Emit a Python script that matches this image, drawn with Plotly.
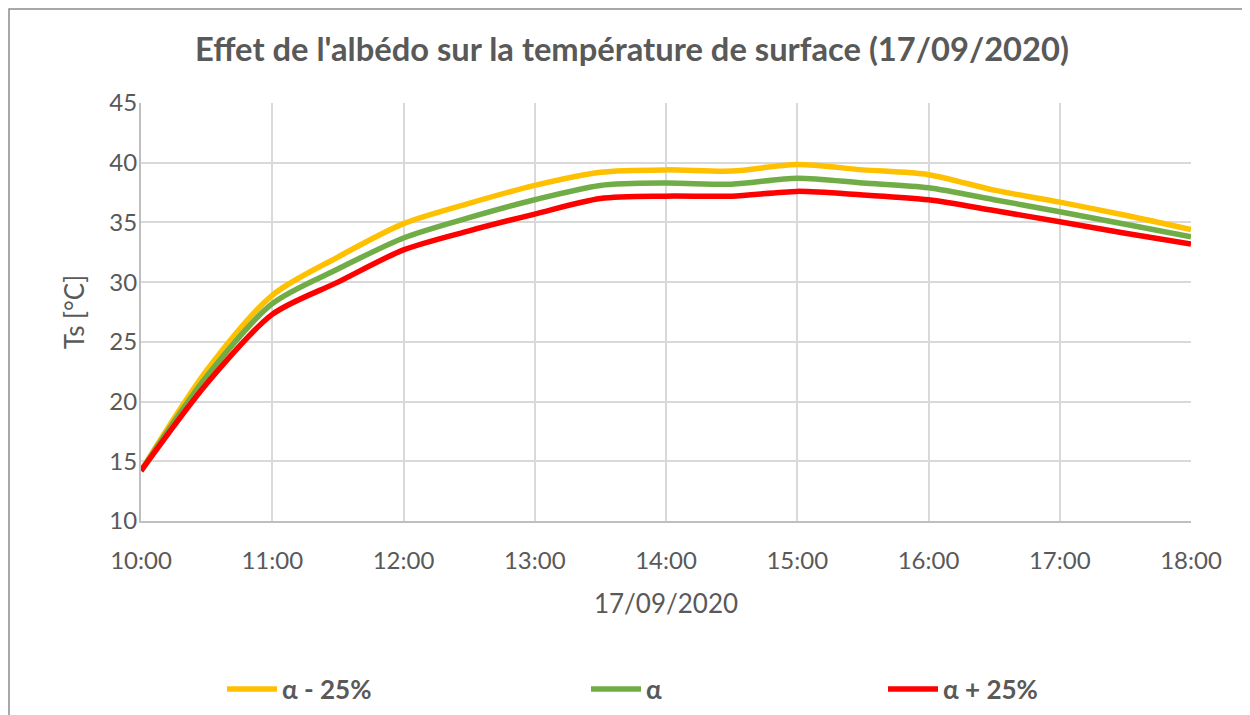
import plotly.graph_objects as go

# ---- data ----
times = ["10:00", "10:30", "11:00", "11:30", "12:00", "12:30", "13:00", "13:30", "14:00",
         "14:30", "15:00", "15:30", "16:00", "16:30", "17:00", "17:30", "18:00"]
alpha_minus_25 = [14.2, 22.6, 28.9, 32.1, 34.9, 36.6, 38.1, 39.2, 39.4,
                  39.3, 39.85, 39.4, 39.0, 37.7, 36.7, 35.6, 34.4]
alpha = [14.2, 22.1, 28.2, 31.1, 33.7, 35.4, 36.9, 38.1, 38.3,
         38.2, 38.7, 38.3, 37.9, 36.9, 35.9, 34.85, 33.8]
alpha_plus_25 = [14.2, 21.5, 27.3, 30.0, 32.7, 34.3, 35.7, 37.0, 37.2,
                 37.2, 37.6, 37.3, 36.9, 36.0, 35.05, 34.1, 33.2]
tick_labels = ["10:00", "11:00", "12:00", "13:00", "14:00", "15:00", "16:00", "17:00", "18:00"]
series_names = ["α - 25%", "α", "α + 25%"]
date = "2020-09-17"

x = [f"{date} {t}" for t in times]
tickvals = [f"{date} {t}" for t in tick_labels]

colors = ["#FFC000", "#70AD47", "#FF0000"]
legends = ["legend", "legend2", "legend3"]

fig = go.Figure()
for name, vals, col, lg in zip(series_names, [alpha_minus_25, alpha, alpha_plus_25], colors, legends):
    fig.add_trace(go.Scatter(x=x, y=vals, name=name, mode="lines", showlegend=True,
                             line=dict(color=col, width=5.5, shape="spline", smoothing=0.8),
                             legend=lg))

# page has an 8px body margin: figure occupies page pixels 8..1250, 8..715
OFF = 8
W, H = 1250 - OFF, 715 - OFF
L, T = 141 - OFF, 103 - OFF
pw, ph = 1050, 418
R, B = W - L - pw, H - T - ph

def px2paper_x(page_px):
    return (page_px - OFF - L) / pw

def px2paper_y(page_py):
    return (T + ph - (page_py - OFF)) / ph

txt = "#595959"
font_family = "Lato"

leg_common = dict(orientation="h", yanchor="middle", xanchor="left",
                  y=px2paper_y(689), bgcolor="rgba(0,0,0,0)",
                  font=dict(family=font_family, size=26, color=txt, weight="bold"),
                  itemwidth=50)

fig.update_layout(
    width=W, height=H,
    showlegend=True,
    margin=dict(l=L, r=R, t=T, b=B, autoexpand=False),
    paper_bgcolor="white", plot_bgcolor="white",
    title=dict(text="<b>Effet de l'albédo sur la température de surface (17/09/2020)</b>",
               x=(632 - OFF) / W, xanchor="center",
               y=1 - (50 - OFF) / H, yanchor="middle",
               font=dict(family=font_family, size=32.7, color=txt)),
    xaxis=dict(type="date", range=[f"{date} 10:00", f"{date} 18:00"],
               tickvals=tickvals, ticktext=tick_labels,
               showgrid=True, gridcolor="#D9D9D9", gridwidth=2,
               showline=True, linecolor="#BFBFBF", linewidth=2,
               ticks="", ticklabelstandoff=17,
               tickfont=dict(family=font_family, size=24, color=txt),
               title=dict(text="17/09/2020", standoff=22,
                          font=dict(family=font_family, size=26, color=txt)),
               zeroline=False, automargin=False),
    yaxis=dict(range=[10, 45], dtick=5, tick0=10,
               showgrid=True, gridcolor="#D9D9D9", gridwidth=2,
               showline=True, linecolor="#BFBFBF", linewidth=2,
               ticks="", ticklabelstandoff=-3,
               tickfont=dict(family=font_family, size=24, color=txt),
               title=dict(text="Ts [°C]", standoff=17,
                          font=dict(family=font_family, size=26, color=txt)),
               zeroline=False, automargin=False),
    legend=dict(x=px2paper_x(222), **leg_common),
    legend2=dict(x=px2paper_x(586), **leg_common),
    legend3=dict(x=px2paper_x(883), **leg_common),
    shapes=[dict(type="rect", xref="paper", yref="paper",
                 x0=px2paper_x(9), x1=px2paper_x(1300),
                 y0=px2paper_y(760), y1=px2paper_y(9),
                 line=dict(color="#8C8C8C", width=1.5), fillcolor="rgba(0,0,0,0)", layer="below")],
)

fig.write_html("out.html")
